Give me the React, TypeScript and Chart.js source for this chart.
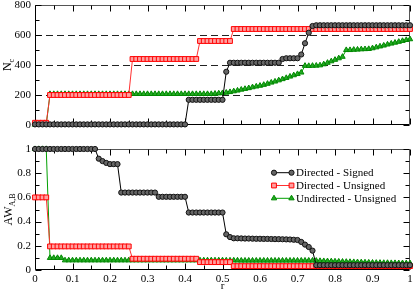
import React, { useEffect, useRef } from 'react';
import { Chart, registerables } from 'chart.js';

Chart.register(...registerables);

const FONT = 'Liberation Serif';

const R = [
  0, 0.01, 0.02, 0.03, 0.04, 0.05, 0.06, 0.07, 0.08, 0.09,
  0.1, 0.11, 0.12, 0.13, 0.14, 0.15, 0.16, 0.17, 0.18, 0.19,
  0.2, 0.21, 0.22, 0.23, 0.24, 0.25, 0.26, 0.27, 0.28, 0.29,
  0.3, 0.31, 0.32, 0.33, 0.34, 0.35, 0.36, 0.37, 0.38, 0.39,
  0.4, 0.41, 0.42, 0.43, 0.44, 0.45, 0.46, 0.47, 0.48, 0.49,
  0.5, 0.51, 0.52, 0.53, 0.54, 0.55, 0.56, 0.57, 0.58, 0.59,
  0.6, 0.61, 0.62, 0.63, 0.64, 0.65, 0.66, 0.67, 0.68, 0.69,
  0.7, 0.71, 0.72, 0.73, 0.74, 0.75, 0.76, 0.77, 0.78, 0.79,
  0.8, 0.81, 0.82, 0.83, 0.84, 0.85, 0.86, 0.87, 0.88, 0.89,
  0.9, 0.91, 0.92, 0.93, 0.94, 0.95, 0.96, 0.97, 0.98, 0.99,
  1,
];

// Top panel: N_c
const NC_DIRECTED_SIGNED = [
  4, 4, 4, 4, 4, 4, 4, 4, 4, 4,
  4, 4, 4, 4, 4, 4, 4, 4, 4, 4,
  4, 4, 4, 4, 4, 4, 4, 4, 4, 4,
  4, 4, 4, 4, 4, 4, 4, 4, 4, 4,
  4, 168, 168, 168, 168, 168, 168, 168, 168, 168,
  168, 355, 415, 415, 415, 415, 415, 415, 415, 415,
  415, 415, 415, 415, 415, 415, 440, 445, 445, 445,
  445, 470, 545, 615, 660, 665, 665, 665, 665, 665,
  665, 665, 665, 665, 665, 665, 665, 665, 665, 665,
  665, 665, 665, 665, 665, 665, 665, 665, 665, 665,
  665,
];
const NC_DIRECTED_UNSIGNED = [
  15, 15, 15, 15, 200, 200, 200, 200, 200, 200,
  200, 200, 200, 200, 200, 200, 200, 200, 200, 200,
  200, 200, 200, 200, 200, 200, 440, 440, 440, 440,
  440, 440, 440, 440, 440, 440, 440, 440, 440, 440,
  440, 440, 440, 440, 560, 560, 560, 560, 560, 560,
  560, 560, 560, 640, 640, 640, 640, 640, 640, 640,
  640, 640, 640, 640, 640, 640, 640, 640, 640, 640,
  640, 640, 640, 640, 640, 640, 640, 640, 640, 640,
  640, 640, 640, 640, 640, 640, 640, 640, 640, 640,
  640, 640, 640, 640, 640, 640, 640, 640, 640, 640,
  640,
];
const NC_UNDIRECTED_UNSIGNED = [
  2, 2, 2, 2, 207, 207, 207, 207, 207, 207,
  207, 207, 207, 207, 207, 207, 207, 207, 207, 207,
  207, 207, 207, 207, 207, 207, 207, 207, 207, 207,
  207, 207, 207, 207, 207, 207, 207, 207, 207, 207,
  207, 207, 207, 207, 207, 207, 207, 207, 209, 211,
  213, 216, 220, 225, 230, 236, 241, 246, 252, 257,
  262, 268, 275, 283, 290, 298, 306, 314, 323, 332,
  340, 350, 395, 394, 395, 396, 398, 405, 415, 425,
  435, 445, 455, 500, 500, 502, 503, 505, 506, 507,
  512, 518, 524, 530, 537, 543, 549, 555, 561, 567,
  572,
];

// Bottom panel: AW_{A,B}
const AW_DIRECTED_SIGNED = [
  1, 1, 1, 1, 1, 1, 1, 1, 1, 1,
  1, 1, 1, 1, 1, 1, 1, 0.92, 0.9, 0.885,
  0.875, 0.875, 0.875, 0.64, 0.64, 0.64, 0.64, 0.64, 0.64, 0.64,
  0.64, 0.64, 0.64, 0.605, 0.605, 0.605, 0.605, 0.605, 0.605, 0.605,
  0.605, 0.475, 0.475, 0.475, 0.475, 0.475, 0.475, 0.475, 0.475, 0.475,
  0.475, 0.295, 0.272, 0.262, 0.262, 0.261, 0.26, 0.26, 0.259, 0.258,
  0.258, 0.257, 0.257, 0.256, 0.255, 0.255, 0.254, 0.253, 0.252, 0.25,
  0.248, 0.232, 0.21, 0.19, 0.16, 0.04, 0.04, 0.04, 0.04, 0.04,
  0.04, 0.04, 0.04, 0.04, 0.04, 0.04, 0.04, 0.04, 0.04, 0.04,
  0.04, 0.04, 0.04, 0.04, 0.04, 0.04, 0.04, 0.04, 0.04, 0.04,
  0.04,
];
const AW_DIRECTED_UNSIGNED = [
  0.6, 0.6, 0.6, 0.6, 0.195, 0.195, 0.195, 0.195, 0.195, 0.195,
  0.195, 0.195, 0.195, 0.195, 0.195, 0.195, 0.195, 0.195, 0.195, 0.195,
  0.195, 0.195, 0.195, 0.195, 0.195, 0.195, 0.093, 0.093, 0.093, 0.093,
  0.093, 0.093, 0.093, 0.093, 0.093, 0.093, 0.093, 0.093, 0.093, 0.093,
  0.093, 0.093, 0.093, 0.093, 0.065, 0.065, 0.065, 0.065, 0.065, 0.065,
  0.065, 0.065, 0.065, 0.032, 0.032, 0.032, 0.032, 0.032, 0.032, 0.032,
  0.032, 0.032, 0.032, 0.032, 0.032, 0.032, 0.032, 0.032, 0.032, 0.032,
  0.032, 0.032, 0.032, 0.032, 0.032, 0.032, 0.032, 0.032, 0.032, 0.032,
  0.032, 0.032, 0.032, 0.032, 0.032, 0.032, 0.032, 0.032, 0.032, 0.032,
  0.032, 0.032, 0.032, 0.032, 0.032, 0.032, 0.032, 0.032, 0.032, 0.032,
  0.032,
];
const AW_UNDIRECTED_UNSIGNED = [
  1, 1, 1, 1, 0.1, 0.1, 0.1, 0.1, 0.08, 0.08,
  0.08, 0.08, 0.08, 0.08, 0.08, 0.08, 0.08, 0.08, 0.08, 0.08,
  0.08, 0.08, 0.08, 0.08, 0.08, 0.08, 0.08, 0.08, 0.08, 0.08,
  0.08, 0.08, 0.08, 0.08, 0.08, 0.08, 0.08, 0.08, 0.08, 0.08,
  0.08, 0.08, 0.08, 0.08, 0.08, 0.08, 0.08, 0.08, 0.08, 0.08,
  0.08, 0.079, 0.079, 0.079, 0.079, 0.078, 0.078, 0.078, 0.078, 0.078,
  0.078, 0.078, 0.078, 0.078, 0.078, 0.078, 0.078, 0.078, 0.078, 0.078,
  0.078, 0.078, 0.078, 0.078, 0.078, 0.077, 0.075, 0.074, 0.073, 0.072,
  0.071, 0.07, 0.069, 0.068, 0.067, 0.066, 0.065, 0.064, 0.063, 0.062,
  0.061, 0.06, 0.06, 0.059, 0.059, 0.058, 0.058, 0.057, 0.057, 0.056,
  0.056,
];

const SERIES_LABELS = ['Directed - Signed', 'Directed - Unsigned', 'Undirected - Unsigned'];

const STYLES = [
  { line: '#000000', border: '#111111', fill: '#666666', point: 'circle', radius: 2.6 },
  { line: '#ff3030', border: '#ff0000', fill: '#ffa0a0', point: 'rect', radius: 3.4 },
  { line: '#00a000', border: '#008800', fill: '#22aa22', point: 'triangle', radius: 3.1 },
];

function makeDatasets(series: number[][]) {
  return series.map((vals, k) => ({
    label: SERIES_LABELS[k],
    data: vals.map((v, i) => ({ x: R[i], y: v })),
    borderColor: STYLES[k].line,
    backgroundColor: STYLES[k].fill,
    borderWidth: 1,
    pointStyle: STYLES[k].point,
    pointRadius: STYLES[k].radius,
    pointBorderWidth: 1,
    pointBorderColor: STYLES[k].border,
    pointBackgroundColor: STYLES[k].fill,
    tension: 0,
    clip: false as any,
  }));
}

const panelPlugin = {
  id: 'panelDecor',
  beforeDatasetsDraw(chart: any, _args: any, opts: any) {
    const { ctx, chartArea: a } = chart;
    const x = chart.scales.x;
    const y = chart.scales.y;
    ctx.save();
    if (opts.dashed) {
      ctx.strokeStyle = '#222';
      ctx.lineWidth = 1;
      ctx.setLineDash([7, 4]);
      for (const v of opts.dashed) {
        const py = Math.round(y.getPixelForValue(v)) + 0.5;
        ctx.beginPath();
        ctx.moveTo(a.left, py);
        ctx.lineTo(a.right, py);
        ctx.stroke();
      }
      ctx.setLineDash([]);
    }
    ctx.lineWidth = 1;
    const l = Math.round(a.left) + 0.5;
    const r = Math.round(a.right) - 0.5;
    const t = Math.round(a.top) + 0.5;
    const b = Math.round(a.bottom) - 0.5;
    ctx.strokeStyle = '#555';
    ctx.beginPath();
    ctx.moveTo(l, t);
    ctx.lineTo(r, t);
    ctx.lineTo(r, b);
    ctx.stroke();
    ctx.strokeStyle = '#000';
    ctx.beginPath();
    ctx.moveTo(l, t);
    ctx.lineTo(l, b);
    ctx.lineTo(r, b);
    ctx.stroke();
    ctx.beginPath();
    for (const tk of x.ticks) {
      const px = Math.round(x.getPixelForValue(tk.value)) + 0.5;
      const len = tk.label ? 6 : 4;
      ctx.moveTo(px, b);
      ctx.lineTo(px, b - len);
      ctx.moveTo(px, t);
      ctx.lineTo(px, t + len);
    }
    for (const tk of y.ticks) {
      const py = Math.round(y.getPixelForValue(tk.value)) + 0.5;
      const len = tk.label ? 6 : 4;
      ctx.moveTo(l, py);
      ctx.lineTo(l + len, py);
      ctx.moveTo(r, py);
      ctx.lineTo(r - len, py);
    }
    ctx.stroke();
    ctx.restore();
  },
  afterDraw(chart: any, _args: any, opts: any) {
    const { ctx, chartArea: a } = chart;
    ctx.save();
    if (opts.title) {
      const main = opts.title.main;
      const sub = opts.title.sub;
      ctx.fillStyle = '#000';
      ctx.font = `12px "${FONT}"`;
      const mw = ctx.measureText(main).width;
      ctx.font = `8px "${FONT}"`;
      const sw = ctx.measureText(sub).width;
      ctx.translate(opts.title.x, (a.top + a.bottom) / 2);
      ctx.rotate(-Math.PI / 2);
      const start = -(mw + sw) / 2;
      ctx.textBaseline = 'alphabetic';
      ctx.textAlign = 'left';
      ctx.font = `12px "${FONT}"`;
      ctx.fillText(main, start, 0);
      ctx.font = `8px "${FONT}"`;
      ctx.fillText(sub, start + mw, 3);
    }
    ctx.restore();
    if (opts.legend) {
      const { x1, x2, tx, y0, dy } = opts.legend;
      ctx.save();
      chart.data.datasets.forEach((ds: any, k: number) => {
        const yy = y0 + k * dy;
        const st = STYLES[k];
        ctx.strokeStyle = st.line;
        ctx.lineWidth = 1;
        ctx.beginPath();
        ctx.moveTo(x1, yy);
        ctx.lineTo(x2, yy);
        ctx.stroke();
        for (const px of [x1, x2]) {
          ctx.fillStyle = st.fill;
          ctx.strokeStyle = st.border;
          ctx.beginPath();
          if (st.point === 'circle') {
            ctx.arc(px, yy, st.radius, 0, Math.PI * 2);
          } else if (st.point === 'rect') {
            const s = st.radius * Math.SQRT1_2;
            ctx.rect(px - s, yy - s, 2 * s, 2 * s);
          } else {
            const rr = st.radius;
            ctx.moveTo(px, yy - rr);
            ctx.lineTo(px + rr * 0.866, yy + rr * 0.5);
            ctx.lineTo(px - rr * 0.866, yy + rr * 0.5);
            ctx.closePath();
          }
          ctx.fill();
          ctx.stroke();
        }
        ctx.fillStyle = '#000';
        ctx.font = `11px "${FONT}"`;
        ctx.textBaseline = 'middle';
        ctx.textAlign = 'left';
        ctx.fillText(ds.label, tx, yy + 0.5);
      });
      ctx.restore();
    }
  },
};

function fmtX(v: any) {
  const m = Math.round(Number(v) * 20);
  return m % 2 === 0 ? String(m / 20) : '';
}

function zeroPad(s: any) {
  s.paddingTop = 0;
  s.paddingBottom = 0;
  s.paddingLeft = 0;
  s.paddingRight = 0;
}

function topConfig(): any {
  return {
    type: 'line',
    data: {
      datasets: makeDatasets([NC_DIRECTED_SIGNED, NC_DIRECTED_UNSIGNED, NC_UNDIRECTED_UNSIGNED]),
    },
    options: {
      responsive: false,
      animation: false,
      layout: { padding: { top: 5, right: 3, left: 0, bottom: 0 } },
      scales: {
        x: {
          type: 'linear',
          min: 0,
          max: 1,
          afterFit: (s: any) => { s.height = 7; zeroPad(s); },
          ticks: { display: false, stepSize: 0.05, autoSkip: false, callback: fmtX },
          grid: { display: false, drawTicks: false },
          border: { display: false },
        },
        y: {
          type: 'linear',
          min: 0,
          max: 800,
          afterFit: (s: any) => { s.width = 35; zeroPad(s); },
          ticks: {
            stepSize: 100,
            autoSkip: false,
            padding: 4,
            color: '#000',
            font: { family: FONT, size: 11 },
            callback: (v: any) => (Number(v) % 200 === 0 ? String(v) : ''),
          },
          grid: { display: false, drawTicks: false },
          border: { display: false },
        },
      },
      plugins: {
        legend: { display: false },
        tooltip: { enabled: false },
        panelDecor: { dashed: [200, 400, 600], title: { main: 'N', sub: 'c', x: 11 } },
      },
    },
    plugins: [panelPlugin],
  };
}

function bottomConfig(): any {
  return {
    type: 'line',
    data: {
      datasets: makeDatasets([AW_DIRECTED_SIGNED, AW_DIRECTED_UNSIGNED, AW_UNDIRECTED_UNSIGNED]),
    },
    options: {
      responsive: false,
      animation: false,
      layout: { padding: { top: 17, right: 3, left: 0, bottom: 0 } },
      scales: {
        x: {
          type: 'linear',
          min: 0,
          max: 1,
          afterFit: (s: any) => { s.height = 21; zeroPad(s); },
          ticks: {
            stepSize: 0.05,
            autoSkip: false,
            maxRotation: 0,
            padding: 3,
            color: '#000',
            font: { family: FONT, size: 11 },
            callback: fmtX,
          },
          title: {
            display: true,
            text: 'r',
            color: '#000',
            font: { family: FONT, size: 11 },
            padding: { top: 0, bottom: -2 },
          },
          grid: { display: false, drawTicks: false },
          border: { display: false },
        },
        y: {
          type: 'linear',
          min: 0,
          max: 1,
          afterFit: (s: any) => { s.width = 35; zeroPad(s); },
          ticks: {
            stepSize: 0.1,
            autoSkip: false,
            padding: 4,
            color: '#000',
            font: { family: FONT, size: 11 },
            callback: (v: any) => {
              const m = Math.round(Number(v) * 10);
              return m % 2 === 0 ? String(m / 10) : '';
            },
          },
          grid: { display: false, drawTicks: false },
          border: { display: false },
        },
      },
      plugins: {
        legend: { display: false },
        tooltip: { enabled: false },
        panelDecor: {
          title: { main: 'AW', sub: 'A,B', x: 12 },
          legend: { x1: 274, x2: 291.5, tx: 296, y0: 40.7, dy: 12.8 },
        },
      },
    },
    plugins: [panelPlugin],
  };
}

export default function App() {
  const topRef = useRef<HTMLCanvasElement>(null);
  const botRef = useRef<HTMLCanvasElement>(null);
  useEffect(() => {
    const c1 = new Chart(topRef.current as HTMLCanvasElement, topConfig());
    const c2 = new Chart(botRef.current as HTMLCanvasElement, bottomConfig());
    return () => {
      c1.destroy();
      c2.destroy();
    };
  }, []);
  return (
    <div style={{ position: 'fixed', left: 0, top: 0, width: 415, height: 291, background: '#fff' }}>
      <canvas ref={topRef} width={415} height={132} style={{ position: 'absolute', left: 0, top: 0, display: 'block' }} />
      <canvas ref={botRef} width={415} height={159} style={{ position: 'absolute', left: 0, top: 132, display: 'block' }} />
    </div>
  );
}
